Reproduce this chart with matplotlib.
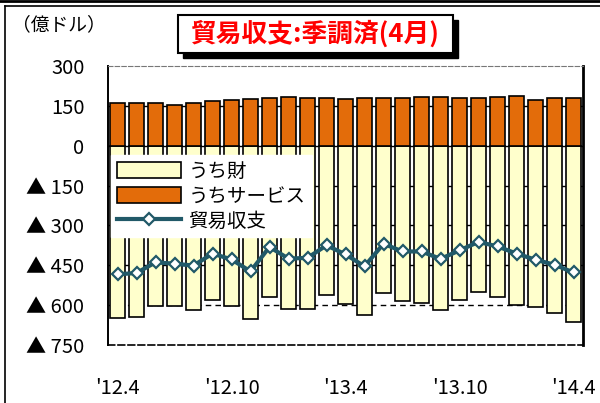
import matplotlib
matplotlib.use("Agg")
import matplotlib.pyplot as plt
from matplotlib.patches import Patch, Rectangle
from matplotlib.lines import Line2D
from matplotlib.ticker import FuncFormatter

# Monthly trade balance, seasonally adjusted (100 million USD)
months = ["'12.4", "'12.5", "'12.6", "'12.7", "'12.8", "'12.9", "'12.10", "'12.11", "'12.12",
          "'13.1", "'13.2", "'13.3", "'13.4", "'13.5", "'13.6", "'13.7", "'13.8", "'13.9",
          "'13.10", "'13.11", "'13.12", "'14.1", "'14.2", "'14.3", "'14.4"]
goods = [-650, -644, -604, -604, -619, -581, -604, -654, -569, -616,
         -613, -562, -594, -637, -554, -585, -591, -619, -581, -552,
         -569, -598, -606, -629, -663]
services = [160, 162, 162, 155, 162, 169, 172, 176, 181, 184,
            181, 180, 176, 179, 178, 179, 182, 185, 180, 180,
            185, 187, 171, 178, 180]
balance = [-484, -479, -439, -444, -451, -406, -428, -473, -381, -425,
           -422, -375, -409, -454, -369, -398, -398, -426, -394, -362,
           -379, -406, -429, -448, -477]
shown_ticks = ["'12.4", "'12.10", "'13.4", "'13.10", "'14.4"]

yellow = "#FFFFCC"
orange = "#E36C0A"
teal = "#215968"
num_font = ["Liberation Sans Narrow", "Noto Sans CJK JP", "DejaVu Sans"]
jp_font = ["Noto Sans CJK JP", "DejaVu Sans"]

W, H = 600, 403
fig = plt.figure(figsize=(6, 4.03), dpi=100)

def fx(px):
    return px / W

def fy(py):
    return 1 - py / H

ax = fig.add_axes([fx(108), fy(345), fx(583) - fx(108), fy(66) - fy(345)])
x = list(range(len(months)))

# grid behind the bars
for g in [150, 0, -150, -300, -450]:
    ax.axhline(g, color="black", lw=1.0, zorder=0)
ax.axhline(-600, color="black", lw=1.0, ls=(0, (4, 3)), zorder=0)

ax.bar(x, goods, width=0.78, color=yellow, edgecolor="black", lw=1.2, zorder=2)
ax.bar(x, services, width=0.78, color=orange, edgecolor="black", lw=1.2, zorder=2)
ax.plot(x, balance, color=teal, lw=3, marker="D", ms=6.5, mfc="white",
        mec=teal, mew=1.6, zorder=3)

ax.set_xlim(-0.5, len(months) - 0.5)
ax.set_ylim(-750, 300)
ax.set_yticks([300, 150, 0, -150, -300, -450, -600, -750])
ax.yaxis.set_major_formatter(FuncFormatter(
    lambda v, p: f"▲ {int(-v)}" if v < 0 else f"{int(v)}"))
ax.set_xticks([months.index(m) for m in shown_ticks])
ax.set_xticklabels(shown_ticks)
ax.tick_params(length=0, labelsize=14.5)
ax.tick_params(axis="y", pad=17)
ax.tick_params(axis="x", pad=24)
for lbl in ax.get_xticklabels() + ax.get_yticklabels():
    lbl.set_family(num_font)

ax.spines["left"].set_linewidth(1.4)
ax.spines["right"].set_linewidth(2.0)
ax.spines["top"].set_color("#777777")
ax.spines["top"].set_linestyle((0, (4, 2)))
ax.spines["bottom"].set_linestyle((0, (4, 2)))
ax.spines["bottom"].set_linewidth(1.2)

handles = [
    Patch(facecolor=yellow, edgecolor="black", lw=1.2, label="うち財"),
    Patch(facecolor=orange, edgecolor="black", lw=1.2, label="うちサービス"),
    Line2D([], [], color=teal, lw=3, marker="D", ms=6.5, mfc="white",
           mec=teal, mew=1.6, label="貿易収支"),
]
leg = ax.legend(handles=handles, loc="upper left",
                bbox_to_anchor=((111 - 108) / 475, (345 - 155) / 279),
                frameon=True, fancybox=False, framealpha=1, edgecolor="white",
                prop={"family": jp_font, "size": 14}, handlelength=3.3,
                handleheight=0.9, labelspacing=0.2, borderpad=0.3,
                handletextpad=0.4, borderaxespad=0.0)
leg.set_zorder(5)

# unit label
fig.text(fx(12), fy(25), "（億ドル）", family=jp_font, fontsize=13.5,
         ha="left", va="center")

# title box with drop shadow
fig.add_artist(Rectangle((fx(183), fy(58)), fx(275), fy(15) - fy(53),
                         transform=fig.transFigure, facecolor="black",
                         edgecolor="black"))
fig.add_artist(Rectangle((fx(178), fy(53)), fx(275), fy(15) - fy(53),
                         transform=fig.transFigure, facecolor="white",
                         edgecolor="black", lw=1.5))
fig.text(fx(315), fy(34), "貿易収支:季調済(4月)", family=jp_font,
         fontsize=18.5, fontweight="bold", color="#FF0000", ha="center",
         va="center")

# outer frame
fig.add_artist(Line2D([0, 1], [fy(0.8), fy(0.8)], transform=fig.transFigure,
                      color="black", lw=2))
fig.add_artist(Line2D([fx(5), 1], [fy(6), fy(6)], transform=fig.transFigure,
                      color="black", lw=1.2))
fig.add_artist(Line2D([fx(5), fx(5)], [fy(6), 0], transform=fig.transFigure,
                      color="black", lw=1.2))

fig.savefig("out.png", dpi=100)
